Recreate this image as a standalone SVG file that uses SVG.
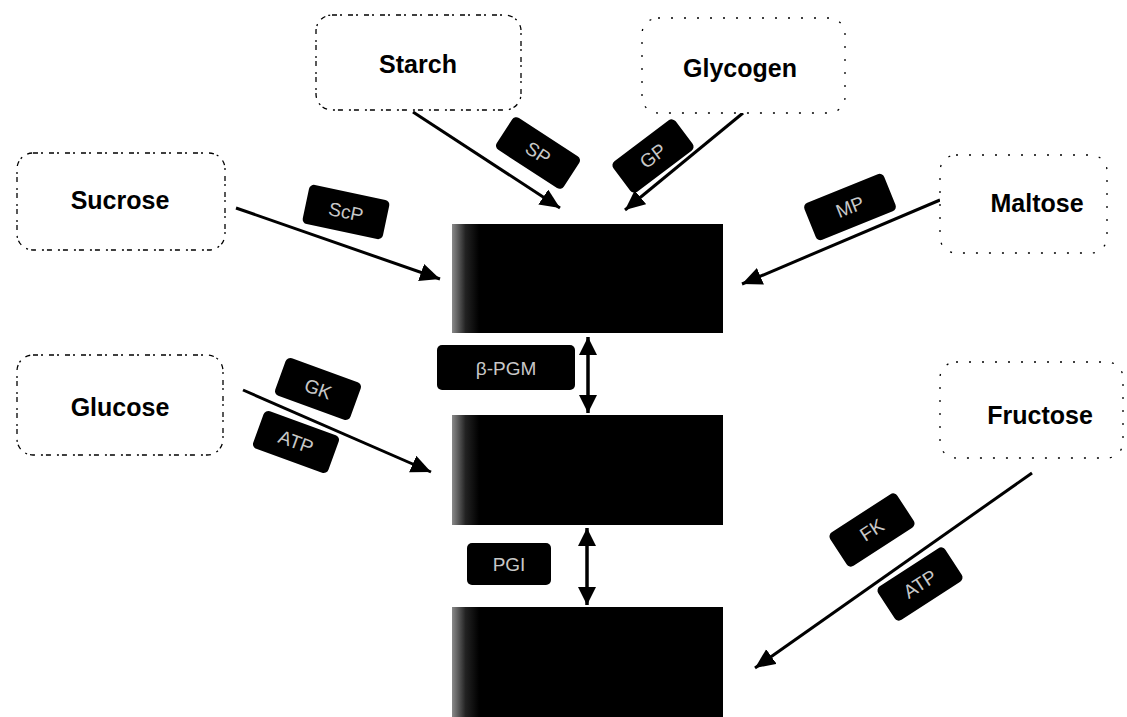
<svg xmlns="http://www.w3.org/2000/svg" width="1127" height="717" viewBox="0 0 1127 717">
<style>
.sub{fill:#fff;stroke:#000;stroke-width:1.3;}
.dense{stroke-dasharray:5 3 2 6;}
.sparse{stroke-dasharray:2 11;}
.name{font-family:"Liberation Sans",Arial,sans-serif;font-weight:bold;font-size:25px;fill:#000;text-anchor:middle;dominant-baseline:central;}
.enz{fill:#000;}
.enzt{font-family:"Liberation Sans",Arial,sans-serif;font-size:19px;fill:#c8c8c8;text-anchor:middle;dominant-baseline:central;}
.conn{stroke:#000;stroke-width:3;fill:none;marker-end:url(#ah);}
.dbl{stroke:#000;stroke-width:3.5;fill:none;marker-end:url(#ah2);marker-start:url(#ah2);}
</style>
<defs>
<marker id="ah" markerUnits="userSpaceOnUse" markerWidth="22" markerHeight="20" refX="20" refY="9" orient="auto"><path d="M0,0 L20,9 L0,18 z" fill="#000"/></marker>
<marker id="ah2" markerUnits="userSpaceOnUse" markerWidth="20" markerHeight="20" refX="18" refY="9" orient="auto-start-reverse"><path d="M0,0 L18,9 L0,18 z" fill="#000"/></marker>
<linearGradient id="dith" x1="0" y1="0" x2="1" y2="0">
<stop offset="0" stop-color="#8a8a8a"/><stop offset="0.05" stop-color="#222"/><stop offset="0.1" stop-color="#000"/><stop offset="1" stop-color="#000"/>
</linearGradient>
</defs>
<rect width="1127" height="717" fill="#fff"/>

<g id="connectors">
<line class="conn" x1="413" y1="112" x2="560" y2="208"/>
<line class="conn" x1="743" y1="113" x2="625" y2="210"/>
<line class="conn" x1="236" y1="208" x2="440" y2="279"/>
<line class="conn" x1="940" y1="200" x2="742" y2="284"/>
<line class="conn" x1="243" y1="390" x2="431" y2="472"/>
<line class="conn" x1="1032" y1="473" x2="755" y2="668"/>
<line class="dbl" x1="588" y1="337" x2="588" y2="413"/>
<line class="dbl" x1="587" y1="528" x2="587" y2="605"/>
</g>

<g id="starch"><rect class="sub dense" x="316" y="15" width="205" height="95" rx="16"/><text class="name" x="418" y="64">Starch</text></g>
<g id="glycogen"><rect class="sub sparse" x="642" y="18" width="203" height="95" rx="16"/><text class="name" x="740" y="68">Glycogen</text></g>
<g id="sucrose"><rect class="sub dense" x="17" y="153" width="208" height="97" rx="16"/><text class="name" x="120" y="200">Sucrose</text></g>
<g id="maltose"><rect class="sub sparse" x="940" y="155" width="167" height="98" rx="16"/><text class="name" x="1037" y="203">Maltose</text></g>
<g id="glucose"><rect class="sub dense" x="17" y="355" width="206" height="100" rx="16"/><text class="name" x="120" y="407">Glucose</text></g>
<g id="fructose"><rect class="sub sparse" x="940" y="362" width="183" height="96" rx="16"/><text class="name" x="1040" y="415">Fructose</text></g>

<g id="box-top"><rect x="452" y="224" width="271" height="109" fill="url(#dith)"/></g>
<g id="box-mid"><rect x="452" y="415" width="271" height="110" fill="url(#dith)"/></g>
<g id="box-bot"><rect x="452" y="607" width="271" height="110" fill="url(#dith)"/></g>

<g id="enz-sp" transform="translate(538,153) rotate(33)"><rect class="enz" x="-40" y="-19" width="80" height="38" rx="5"/><text class="enzt" x="0" y="0">SP</text></g>
<g id="enz-gp" transform="translate(653,156) rotate(-37)"><rect class="enz" x="-39" y="-19" width="78" height="38" rx="5"/><text class="enzt" x="0" y="0">GP</text></g>
<g id="enz-scp" transform="translate(346,212) rotate(12)"><rect class="enz" x="-41" y="-20" width="82" height="40" rx="5"/><text class="enzt" x="0" y="0">ScP</text></g>
<g id="enz-mp" transform="translate(850,207) rotate(-22)"><rect class="enz" x="-43" y="-20" width="86" height="40" rx="5"/><text class="enzt" x="0" y="0">MP</text></g>
<g id="enz-gk" transform="translate(318,389) rotate(20)"><rect class="enz" x="-40" y="-20" width="80" height="40" rx="5"/><text class="enzt" x="0" y="0">GK</text></g>
<g id="enz-atp1" transform="translate(296,442) rotate(20)"><rect class="enz" x="-40" y="-20" width="80" height="40" rx="5"/><text class="enzt" x="0" y="0">ATP</text></g>
<g id="enz-fk" transform="translate(872,530) rotate(-33)"><rect class="enz" x="-40" y="-20" width="80" height="40" rx="5"/><text class="enzt" x="0" y="0">FK</text></g>
<g id="enz-atp2" transform="translate(920,584) rotate(-33)"><rect class="enz" x="-40" y="-20" width="80" height="40" rx="5"/><text class="enzt" x="0" y="0">ATP</text></g>
<g id="enz-pgm"><rect class="enz" x="437" y="345" width="138" height="45" rx="5"/><text class="enzt" x="506" y="368">β-PGM</text></g>
<g id="enz-pgi"><rect class="enz" x="467" y="543" width="84" height="42" rx="5"/><text class="enzt" x="509" y="564">PGI</text></g>
</svg>
